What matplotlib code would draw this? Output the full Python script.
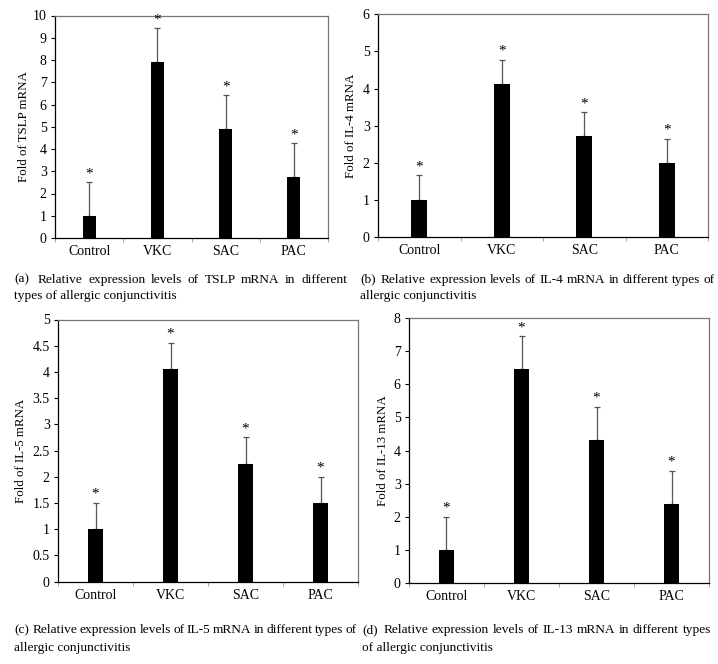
import matplotlib
matplotlib.use("Agg")
import matplotlib.pyplot as plt
import numpy as np

plt.rcParams['font.family'] = ['Liberation Serif', 'DejaVu Serif']

categories = ["Control", "VKC", "SAC", "PAC"]

tslp_mean = [1.0, 7.93, 4.92, 2.75]
tslp_err = [1.5, 1.5, 1.5, 1.5]
il4_mean = [1.0, 4.12, 2.71, 2.0]
il4_err = [0.67, 0.66, 0.66, 0.65]
il5_mean = [1.0, 4.05, 2.25, 1.5]
il5_err = [0.5, 0.5, 0.5, 0.5]
il13_mean = [1.0, 6.45, 4.33, 2.4]
il13_err = [1.0, 1.0, 1.0, 1.0]

ylabels = ["Fold of TSLP mRNA", "Fold of IL-4 mRNA", "Fold of IL-5 mRNA", "Fold of IL-13 mRNA"]
yticks = [
    [0, 1, 2, 3, 4, 5, 6, 7, 8, 9, 10],
    [0, 1, 2, 3, 4, 5, 6],
    [0, 0.5, 1, 1.5, 2, 2.5, 3, 3.5, 4, 4.5, 5],
    [0, 1, 2, 3, 4, 5, 6, 7, 8],
]
yticklabels = [
    ["0", "1", "2", "3", "4", "5", "6", "7", "8", "9", "10"],
    ["0", "1", "2", "3", "4", "5", "6"],
    ["0", "0.5", "1", "1.5", "2", "2.5", "3", "3.5", "4", "4.5", "5"],
    ["0", "1", "2", "3", "4", "5", "6", "7", "8"],
]
captions = [
    ("(a)  Relative expression levels of TSLP mRNA in different",
     "types of allergic conjunctivitis"),
    ("(b)  Relative expression levels of IL-4 mRNA in different types of",
     "allergic conjunctivitis"),
    ("(c)  Relative expression levels of IL-5 mRNA in different types of",
     "allergic conjunctivitis"),
    ("(d)  Relative expression levels of IL-13 mRNA in different types",
     "of allergic conjunctivitis"),
]

means = [tslp_mean, il4_mean, il5_mean, il13_mean]
errs = [tslp_err, il4_err, il5_err, il13_err]

W, H = 718, 664
fig = plt.figure(figsize=(W / 100, H / 100), dpi=100)

# pixel boxes: left, right, top, bottom
boxes = [
    (55, 328, 15.5, 238),
    (378, 708, 14.3, 237),
    (58, 358, 319.5, 581.7),
    (409, 709, 318, 583.3),
]
# caption: x left, x right of first line, baseline line1, baseline line2
cap_geo = [(14, 347, 282.5, 299.5), (360, 715, 282.5, 299.5),
           (14, 357, 633, 650.5), (362, 711, 633, 650.5)]
ylab_x = [30, 357, 27, 389]

for i in range(4):
    l, r, t, b = boxes[i]
    ax = fig.add_axes([l / W, 1 - b / H, (r - l) / W, (b - t) / H])
    x = np.arange(len(categories))
    ax.bar(x, means[i], width=0.19, color="black", zorder=3)
    ax.errorbar(x, means[i], yerr=[np.zeros(len(x)), errs[i]], fmt="none",
                ecolor="#555555", elinewidth=0.9, capsize=2, capthick=0.9, zorder=2)
    ymax = yticks[i][-1]
    for xi, m, e in zip(x, means[i], errs[i]):
        ax.text(xi, m + e + ymax * 0.008, "*", ha="center", va="bottom", fontsize=11)
    ax.set_xlim(-0.5, 3.5)
    ax.set_ylim(0, ymax)
    ax.set_yticks(yticks[i])
    ax.set_yticklabels(yticklabels[i], fontsize=10)
    ax.set_xticks(x)
    ax.set_xticklabels(categories, fontsize=10)
    ax.tick_params(axis="x", length=0, pad=5)
    ax.set_xticks(np.arange(-0.5, 4.0, 1.0), minor=True)
    ax.tick_params(axis="x", which="minor", length=3, direction="out", color="#999999")
    ax.tick_params(axis="y", length=3, direction="out", width=0.8, pad=3)
    for s in ["left", "bottom"]:
        ax.spines[s].set_color("black")
        ax.spines[s].set_linewidth(0.9)
    for s in ["top", "right"]:
        ax.spines[s].set_color("#777777")
        ax.spines[s].set_linewidth(0.9)
    ax.set_ylabel(ylabels[i], fontsize=9.3)
    ax.yaxis.set_label_coords((ylab_x[i] - l) / (r - l), 0.5)

# captions: first line justified, second line left-aligned
fig.canvas.draw()
renderer = fig.canvas.get_renderer()
cap_fs = 9.6
for i in range(4):
    x0, x1, y1, y2 = cap_geo[i]
    line1, line2 = captions[i]
    words = line1.split()
    texts = [fig.text(0, 1 - y1 / H, w, ha="left", va="baseline", fontsize=cap_fs) for w in words]
    widths = [t.get_window_extent(renderer).width for t in texts]
    n_gaps = len(words) - 1 + 0.6  # first gap after the panel letter is wider
    gap = (x1 - x0 - sum(widths)) / n_gaps
    pos = x0
    for k, (t, w) in enumerate(zip(texts, widths)):
        t.set_x(pos / W)
        pos += w + (gap * 1.6 if k == 0 else gap)
    fig.text(x0 / W, 1 - y2 / H, line2, ha="left", va="baseline", fontsize=cap_fs)

fig.savefig("out.png", dpi=100)
